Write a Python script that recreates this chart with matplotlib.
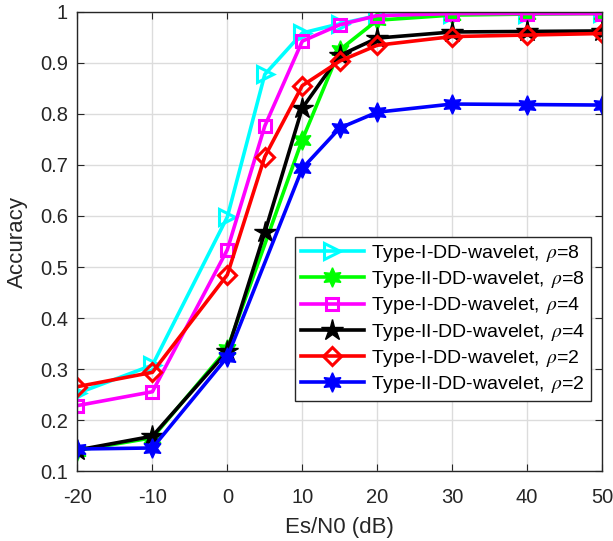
import numpy as np
import matplotlib
matplotlib.use('Agg')
from matplotlib import pyplot as plt

plt.rcParams['font.family'] = ['Liberation Sans', 'DejaVu Sans']
plt.rcParams['mathtext.fontset'] = 'stix'

# Es/N0 points (dB) and accuracy for each detector
snr_all = [-20, -10, 0, 5, 10, 15, 20, 30, 40, 50]
snr_t2 = [-20, -10, 0, 10, 15, 20, 30, 40, 50]

type1_rho8 = [0.253, 0.308, 0.598, 0.877, 0.958, 0.976, 0.992, 0.996, 0.996, 0.997]
type2_rho8 = [0.141, 0.166, 0.340, 0.749, 0.925, 0.983, 0.993, 0.995, 0.996]
type1_rho4 = [0.229, 0.256, 0.534, 0.776, 0.942, 0.974, 0.992, 0.996, 0.996, 0.996]
type2_rho4 = [0.142, 0.169, 0.335, 0.568, 0.811, 0.914, 0.948, 0.960, 0.961, 0.962]
type1_rho2 = [0.266, 0.294, 0.485, 0.716, 0.855, 0.903, 0.934, 0.951, 0.954, 0.957]
type2_rho2 = [0.144, 0.146, 0.324, 0.693, 0.772, 0.803, 0.819, 0.818, 0.817]

# x axis is not linear: ticks are equally spaced
xticks_db = [-20, -10, 0, 10, 20, 30, 40, 50]
def pos(v):
    return np.interp(v, xticks_db, np.arange(len(xticks_db)))

fig = plt.figure(figsize=(6.13, 5.41), dpi=100)
ax = fig.add_axes([0.1264, 0.1285, 0.8556, 0.8502])

lw = 2.6
ms = 12
hexagram = (6, 1, 0)
ax.plot(pos(snr_all), type1_rho8, '-', color='cyan', lw=lw, marker='>', ms=ms,
        mfc='none', mew=2.2, label='Type-I-DD-wavelet, $\\,\\rho$=8')
ax.plot(pos(snr_t2), type2_rho8, '-', color='#00ff00', lw=lw, marker=hexagram, ms=ms + 2,
        label='Type-II-DD-wavelet, $\\,\\rho$=8')
ax.plot(pos(snr_all), type1_rho4, '-', color='magenta', lw=lw, marker='s', ms=ms - 3,
        mfc='none', mew=2.2, label='Type-I-DD-wavelet, $\\,\\rho$=4')
ax.plot(pos(snr_all), type2_rho4, '-', color='black', lw=lw, marker='*', ms=ms + 4,
        label='Type-II-DD-wavelet, $\\,\\rho$=4')
ax.plot(pos(snr_all), type1_rho2, '-', color='red', lw=lw, marker='D', ms=ms - 3,
        mfc='none', mew=2.2, label='Type-I-DD-wavelet, $\\,\\rho$=2')
ax.plot(pos(snr_t2), type2_rho2, '-', color='blue', lw=lw, marker=hexagram, ms=ms + 2,
        label='Type-II-DD-wavelet, $\\,\\rho$=2')

ax.set_xlim(0, 7)
ax.set_ylim(0.1, 1.0)
ax.set_xticks(np.arange(len(xticks_db)))
ax.set_xticklabels([str(v) for v in xticks_db])
ax.set_yticks(np.arange(0.1, 1.01, 0.1))
ax.set_yticklabels(['0.1', '0.2', '0.3', '0.4', '0.5', '0.6', '0.7', '0.8', '0.9', '1'])
ax.grid(True, color='#dcdcdc', lw=1)
ax.set_axisbelow(True)
ax.tick_params(direction='in', top=True, right=True, length=5, color='#262626',
               labelsize=14.5, labelcolor='#262626')
ax.tick_params(axis='x', pad=12)
ax.tick_params(axis='y', pad=7)
for s in ax.spines.values():
    s.set_color('#262626')
    s.set_linewidth(1)

ax.set_xlabel('Es/N0 (dB)', fontsize=16, color='#262626', va='center')
ax.set_ylabel('Accuracy', fontsize=16, color='#262626', va='center')
ax.xaxis.set_label_coords(0.5, -0.121)
ax.yaxis.set_label_coords(-0.115, 0.5)

leg = ax.legend(loc='upper left', bbox_to_anchor=(0.4147, 0.5098), borderaxespad=0,
                fontsize=14, handlelength=3.25, labelspacing=0.27, borderpad=0.3,
                handletextpad=0.35, fancybox=False, framealpha=1, edgecolor='#262626')
leg.get_frame().set_linewidth(1)

plt.savefig('out.png', dpi=100)
